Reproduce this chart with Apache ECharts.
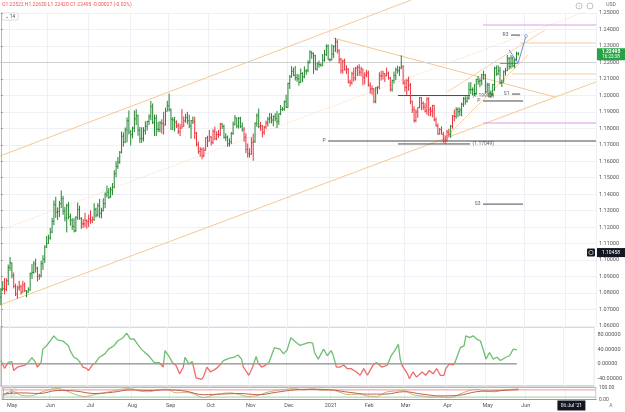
<!DOCTYPE html>
<html><head><meta charset="utf-8">
<script src="https://cdn.jsdelivr.net/npm/echarts@6/dist/echarts.min.js"></script>
<style>html,body{margin:0;padding:0;background:#fff}#c{width:625px;height:412px}</style>
</head><body><div id="c"></div>
<script>
// ---------- data ----------
const startDate = [2020, 3, 24];      // first bar: 24 Apr 2020 (weekday calendar)
const slotCount = 326;                 // bars + empty future space
const lastPrice = 1.22495;
const crossPrice = 1.10458;
const crossDate = '2021-07-06';
const titleText = 'O1.22522 H1.22630 L1.22420 C1.22495 -0.00027 (-0.02%)';
const monthNames = ['Jan','Feb','Mar','Apr','May','Jun','Jul','Aug','Sep','Oct','Nov','Dec'];

// daily bars [open, close, low, high]
const ohlc = [
[1.0774,1.0822,1.0727,1.0830],[1.0822,1.0828,1.0812,1.0873],[1.0828,1.0823,1.0792,1.0892],[1.0823,1.0874,1.0811,1.0889],[1.0874,1.0955,1.0847,1.0973],
[1.0955,1.0983,1.0935,1.1019],
[1.0983,1.0907,1.0889,1.0986],[1.0907,1.0841,1.0828,1.0925],[1.0841,1.0794,1.0782,1.0857],[1.0794,1.0831,1.0766,1.0845],[1.0831,1.0838,1.0814,1.0875],
[1.0838,1.0806,1.0790,1.0851],[1.0806,1.0850,1.0803,1.0875],[1.0850,1.0815,1.0806,1.0865],[1.0815,1.0806,1.0775,1.0818],[1.0806,1.0820,1.0802,1.0835],
[1.0820,1.0917,1.0814,1.0925],[1.0917,1.0925,1.0885,1.0975],[1.0925,1.0977,1.0918,1.0994],[1.0977,1.0950,1.0924,1.1009],[1.0950,1.0903,1.0870,1.0960],
[1.0903,1.0904,1.0880,1.0917],[1.0904,1.0978,1.0895,1.0996],[1.0978,1.1007,1.0940,1.1030],[1.1007,1.1078,1.0982,1.1091],[1.1078,1.1101,1.1074,1.1146],
[1.1101,1.1134,1.1098,1.1154],[1.1134,1.1170,1.1124,1.1196],[1.1170,1.1235,1.1164,1.1257],[1.1235,1.1337,1.1212,1.1362],[1.1337,1.1290,1.1256,1.1384],
[1.1290,1.1295,1.1244,1.1320],[1.1295,1.1343,1.1261,1.1360],[1.1343,1.1373,1.1317,1.1422],[1.1373,1.1298,1.1275,1.1390],[1.1298,1.1256,1.1235,1.1322],
[1.1256,1.1330,1.1168,1.1342],[1.1330,1.1264,1.1248,1.1353],[1.1264,1.1243,1.1209,1.1283],[1.1243,1.1205,1.1184,1.1253],[1.1205,1.1178,1.1168,1.1256],
[1.1178,1.1259,1.1171,1.1267],[1.1259,1.1307,1.1244,1.1349],[1.1307,1.1252,1.1245,1.1330],[1.1252,1.1220,1.1190,1.1261],[1.1220,1.1220,1.1195,1.1250],
[1.1220,1.1242,1.1200,1.1287],[1.1242,1.1233,1.1191,1.1247],[1.1233,1.1250,1.1200,1.1276],[1.1250,1.1240,1.1221,1.1302],[1.1240,1.1247,1.1224,1.1265],
[1.1247,1.1309,1.1238,1.1345],[1.1309,1.1274,1.1258,1.1318],[1.1274,1.1329,1.1264,1.1346],[1.1329,1.1284,1.1256,1.1372],[1.1284,1.1300,1.1253,1.1318],
[1.1300,1.1343,1.1296,1.1375],[1.1343,1.1398,1.1315,1.1411],[1.1398,1.1412,1.1380,1.1452],[1.1412,1.1383,1.1371,1.1437],[1.1383,1.1427,1.1377,1.1444],
[1.1427,1.1443,1.1394,1.1468],[1.1443,1.1525,1.1436,1.1546],[1.1525,1.1569,1.1502,1.1601],[1.1569,1.1594,1.1554,1.1626],[1.1594,1.1655,1.1585,1.1662],
[1.1655,1.1752,1.1647,1.1781],[1.1752,1.1716,1.1689,1.1776],[1.1716,1.1790,1.1710,1.1805],[1.1790,1.1846,1.1715,1.1866],[1.1846,1.1778,1.1763,1.1908],
[1.1778,1.1762,1.1696,1.1790],[1.1762,1.1801,1.1739,1.1810],[1.1801,1.1858,1.1777,1.1908],[1.1858,1.1876,1.1820,1.1916],[1.1876,1.1788,1.1755,1.1883],
[1.1788,1.1737,1.1711,1.1809],[1.1737,1.1739,1.1711,1.1806],[1.1739,1.1786,1.1720,1.1807],[1.1786,1.1812,1.1762,1.1843],[1.1812,1.1842,1.1787,1.1846],
[1.1842,1.1870,1.1819,1.1885],[1.1870,1.1931,1.1849,1.1966],[1.1931,1.1837,1.1826,1.1951],[1.1837,1.1860,1.1753,1.1883],[1.1860,1.1796,1.1753,1.1883],
[1.1796,1.1793,1.1776,1.1839],[1.1793,1.1833,1.1776,1.1845],[1.1833,1.1830,1.1767,1.1855],[1.1830,1.1820,1.1762,1.1900],[1.1820,1.1903,1.1818,1.1925],
[1.1903,1.1937,1.1903,1.1967],[1.1937,1.1913,1.1902,1.2011],[1.1913,1.1854,1.1790,1.1921],[1.1854,1.1850,1.1789,1.1868],[1.1850,1.1838,1.1781,1.1869],
[1.1838,1.1816,1.1802,1.1848],[1.1816,1.1780,1.1765,1.1831],[1.1780,1.1801,1.1753,1.1827],[1.1801,1.1812,1.1800,1.1917],[1.1812,1.1845,1.1810,1.1872],
[1.1845,1.1865,1.1835,1.1888],[1.1865,1.1846,1.1824,1.1900],[1.1846,1.1815,1.1802,1.1882],[1.1815,1.1848,1.1737,1.1850],[1.1848,1.1840,1.1826,1.1872],
[1.1840,1.1770,1.1735,1.1870],[1.1770,1.1703,1.1690,1.1778],[1.1703,1.1660,1.1645,1.1720],[1.1660,1.1672,1.1627,1.1686],[1.1672,1.1632,1.1612,1.1683],
[1.1632,1.1667,1.1624,1.1684],[1.1667,1.1743,1.1664,1.1746],[1.1743,1.1722,1.1686,1.1755],[1.1722,1.1748,1.1721,1.1790],[1.1748,1.1715,1.1696,1.1752],
[1.1715,1.1781,1.1703,1.1795],[1.1781,1.1734,1.1730,1.1810],[1.1734,1.1762,1.1728,1.1782],[1.1762,1.1760,1.1742,1.1790],[1.1760,1.1825,1.1754,1.1833],
[1.1825,1.1812,1.1795,1.1832],[1.1812,1.1745,1.1737,1.1822],[1.1745,1.1746,1.1722,1.1770],[1.1746,1.1706,1.1688,1.1756],[1.1706,1.1718,1.1689,1.1739],
[1.1718,1.1769,1.1704,1.1778],[1.1769,1.1824,1.1760,1.1841],[1.1824,1.1863,1.1818,1.1881],[1.1863,1.1815,1.1800,1.1865],[1.1815,1.1860,1.1799,1.1869],
[1.1860,1.1812,1.1802,1.1870],[1.1812,1.1794,1.1780,1.1836],[1.1794,1.1746,1.1718,1.1807],[1.1746,1.1672,1.1650,1.1770],[1.1672,1.1646,1.1622,1.1708],
[1.1646,1.1642,1.1622,1.1679],[1.1642,1.1714,1.1640,1.1745],[1.1714,1.1722,1.1603,1.1769],[1.1722,1.1830,1.1711,1.1836],[1.1830,1.1876,1.1809,1.1891],
[1.1876,1.1812,1.1801,1.1920],[1.1812,1.1815,1.1785,1.1838],[1.1815,1.1776,1.1745,1.1820],[1.1776,1.1807,1.1760,1.1815],[1.1807,1.1833,1.1796,1.1847],
[1.1833,1.1855,1.1811,1.1870],[1.1855,1.1863,1.1831,1.1893],[1.1863,1.1850,1.1830,1.1891],[1.1850,1.1872,1.1812,1.1878],[1.1872,1.1859,1.1842,1.1892],
[1.1859,1.1842,1.1801,1.1905],[1.1842,1.1888,1.1821,1.1890],[1.1888,1.1914,1.1880,1.1941],[1.1914,1.1916,1.1906,1.1930],[1.1916,1.1962,1.1906,1.1969],
[1.1962,1.1927,1.1923,1.2004],[1.1927,1.2072,1.1925,1.2077],[1.2072,1.2113,1.2039,1.2123],[1.2113,1.2146,1.2107,1.2177],[1.2146,1.2122,1.2117,1.2169],
[1.2122,1.2109,1.2090,1.2178],[1.2109,1.2100,1.2083,1.2130],[1.2100,1.2079,1.2059,1.2128],[1.2079,1.2133,1.2074,1.2163],[1.2133,1.2112,1.2081,1.2140],
[1.2112,1.2148,1.2104,1.2176],[1.2148,1.2150,1.2125,1.2159],[1.2150,1.2199,1.2140,1.2213],[1.2199,1.2263,1.2193,1.2273],[1.2263,1.2255,1.2222,1.2268],
[1.2255,1.2241,1.2130,1.2260],[1.2241,1.2159,1.2153,1.2246],[1.2159,1.2191,1.2150,1.2201],[1.2191,1.2187,1.2168,1.2211],[1.2187,1.2180,1.2175,1.2195],
[1.2180,1.2214,1.2179,1.2251],[1.2214,1.2249,1.2205,1.2276],[1.2249,1.2298,1.2239,1.2310],[1.2298,1.2216,1.2215,1.2309],[1.2216,1.2216,1.2205,1.2225],
[1.2216,1.2251,1.2212,1.2310],[1.2251,1.2297,1.2227,1.2305],[1.2297,1.2325,1.2264,1.2349],[1.2325,1.2271,1.2254,1.2339],[1.2271,1.2219,1.2193,1.2280],
[1.2219,1.2150,1.2132,1.2227],[1.2150,1.2208,1.2132,1.2218],[1.2208,1.2156,1.2151,1.2223],[1.2156,1.2159,1.2130,1.2183],[1.2159,1.2080,1.2072,1.2166],
[1.2080,1.2076,1.2053,1.2094],[1.2076,1.2131,1.2066,1.2144],[1.2131,1.2105,1.2084,1.2168],[1.2105,1.2166,1.2090,1.2173],[1.2166,1.2170,1.2117,1.2183],
[1.2170,1.2141,1.2119,1.2189],[1.2141,1.2160,1.2116,1.2174],[1.2160,1.2110,1.2060,1.2162],[1.2110,1.2123,1.2067,1.2140],[1.2123,1.2136,1.2110,1.2155],
[1.2136,1.2062,1.2053,1.2150],[1.2062,1.2039,1.2010,1.2079],[1.2039,1.2040,1.2003,1.2060],[1.2040,1.1963,1.1952,1.2044],[1.1963,1.2046,1.1952,1.2050],
[1.2046,1.2050,1.2008,1.2055],[1.2050,1.2118,1.2037,1.2140],[1.2118,1.2119,1.2090,1.2149],[1.2119,1.2132,1.2096,1.2150],[1.2132,1.2119,1.2081,1.2135],
[1.2119,1.2133,1.2115,1.2169],[1.2133,1.2105,1.2096,1.2144],[1.2105,1.2037,1.2023,1.2112],[1.2037,1.2090,1.2022,1.2095],[1.2090,1.2120,1.2073,1.2145],
[1.2120,1.2155,1.2092,1.2169],[1.2155,1.2150,1.2133,1.2180],[1.2150,1.2166,1.2118,1.2175],[1.2166,1.2176,1.2159,1.2243],[1.2176,1.2075,1.2066,1.2183],
[1.2075,1.2048,1.2022,1.2095],[1.2048,1.2089,1.2000,1.2100],[1.2089,1.2061,1.2028,1.2114],[1.2061,1.1964,1.1946,1.2075],[1.1964,1.1914,1.1893,1.1968],
[1.1914,1.1847,1.1835,1.1934],[1.1847,1.1899,1.1836,1.1915],[1.1899,1.1926,1.1864,1.1929],[1.1926,1.1986,1.1922,1.1990],[1.1986,1.1951,1.1910,1.1990],
[1.1951,1.1929,1.1912,1.1964],[1.1929,1.1904,1.1896,1.1953],[1.1904,1.1978,1.1883,1.1988],[1.1978,1.1914,1.1874,1.1989],[1.1914,1.1904,1.1874,1.1930],
[1.1904,1.1938,1.1867,1.1943],[1.1938,1.1852,1.1842,1.1942],[1.1852,1.1815,1.1810,1.1866],[1.1815,1.1766,1.1760,1.1830],[1.1766,1.1793,1.1762,1.1802],
[1.1793,1.1764,1.1763,1.1812],[1.1764,1.1726,1.1712,1.1779],[1.1726,1.1730,1.1704,1.1758],[1.1730,1.1777,1.1717,1.1790],[1.1777,1.1762,1.1748,1.1797],
[1.1762,1.1813,1.1742,1.1820],[1.1813,1.1874,1.1798,1.1881],[1.1874,1.1872,1.1842,1.1914],[1.1872,1.1915,1.1858,1.1927],[1.1915,1.1901,1.1868,1.1928],
[1.1901,1.1911,1.1875,1.1926],[1.1911,1.1946,1.1873,1.1956],[1.1946,1.1980,1.1930,1.1990],[1.1980,1.1965,1.1943,1.1994],[1.1965,1.1983,1.1955,1.1994],
[1.1983,1.2035,1.1974,1.2079],[1.2035,1.2035,1.2009,1.2080],[1.2035,1.2033,1.2000,1.2048],[1.2033,1.2012,1.1995,1.2070],[1.2012,1.2097,1.2003,1.2101],
[1.2097,1.2085,1.2065,1.2117],[1.2085,1.2089,1.2050,1.2103],[1.2089,1.2125,1.2060,1.2131],[1.2125,1.2125,1.2095,1.2150],[1.2125,1.2020,1.2015,1.2129],
[1.2020,1.2062,1.2016,1.2077],[1.2062,1.2015,1.1986,1.2075],[1.2015,1.2004,1.1985,1.2030],[1.2004,1.2066,1.1994,1.2070],[1.2066,1.2165,1.2027,1.2173],
[1.2165,1.2131,1.2118,1.2181],[1.2131,1.2149,1.2122,1.2182],[1.2149,1.2075,1.2068,1.2173],[1.2075,1.2080,1.2051,1.2095],[1.2080,1.2143,1.2078,1.2152],
[1.2143,1.2150,1.2120,1.2167],[1.2150,1.2223,1.2147,1.2245],[1.2223,1.2176,1.2156,1.2233],[1.2176,1.2226,1.2162,1.2244],[1.2226,1.2180,1.2170,1.2236],
[1.2180,1.2213,1.2164,1.2224],[1.2213,1.2252,1.2211,1.2266],[1.22522,1.22495,1.22420,1.22630]
];

// oscillator pane: [bar index, value]
const oscPoints = [[0,9],[1,6],[2,-12],[4,4],[6,6],[7,-18],[9,-9],[11,-6],[13,-4],[15,4],[17,17],[18,18],[19,4],[20,-9],[22,3],[23,40],[25,49],[27,62],[29,76],[31,65],[34,62],[37,49],[38,36],[40,18],[42,13],[44,0],[45,-9],[47,-12],[48,-18],[50,-4],[52,4],[54,18],[57,27],[59,40],[62,49],[64,62],[67,71],[69,83],[71,67],[73,68],[75,53],[77,40],[79,31],[81,22],[84,4],[87,3],[89,-9],[90,36],[92,22],[94,4],[96,-4],[98,-27],[100,-9],[101,18],[103,0],[105,6],[107,-38],[110,-42],[111,-36],[113,-9],[115,-22],[118,-13],[120,-4],[122,9],[125,15],[128,18],[130,24],[132,13],[133,-9],[136,-31],[138,-9],[140,20],[141,3],[143,-9],[145,-4],[147,4],[150,44],[153,40],[155,27],[157,38],[159,71],[162,58],[164,50],[167,55],[169,58],[171,56],[172,31],[174,13],[177,40],[179,22],[181,36],[182,27],[184,-9],[186,-9],[188,-3],[190,-13],[192,-13],[195,-22],[197,-31],[199,-13],[201,-31],[202,-36],[204,-4],[206,4],[209,-9],[212,-3],[213,-4],[214,22],[216,36],[218,53],[219,13],[220,-4],[223,-27],[224,-40],[226,-22],[228,-36],[231,-22],[233,-31],[235,-18],[237,-27],[239,-13],[241,-31],[243,-31],[244,-13],[246,0],[248,-3],[249,4],[252,44],[254,49],[255,76],[257,71],[259,76],[261,67],[263,62],[265,31],[266,13],[268,31],[270,13],[272,18],[274,9],[275,13],[277,18],[279,22],[281,40],[283,38]];

// bottom pane: two stochastic-like lines [bar index, value]
const stochFast = [[0,25],[5,70],[10,35],[15,30],[20,55],[25,80],[30,92],[35,70],[40,40],[45,25],[50,40],[55,55],[60,70],[65,85],[70,90],[75,70],[80,65],[85,80],[90,85],[95,55],[100,60],[105,45],[110,15],[115,35],[120,50],[125,55],[130,40],[135,25],[140,35],[145,60],[150,75],[155,85],[160,90],[165,80],[170,88],[175,75],[180,80],[185,60],[190,40],[195,45],[200,30],[205,25],[210,60],[215,70],[220,75],[225,40],[230,30],[235,20],[240,20],[245,15],[250,40],[255,70],[260,85],[265,70],[270,65],[275,80],[280,85],[283,88]];
const stochSlow = [[0,45],[10,55],[20,50],[30,75],[40,70],[50,50],[60,60],[70,80],[80,75],[90,80],[100,70],[110,40],[120,45],[130,50],[140,40],[150,60],[160,80],[170,85],[180,80],[190,60],[200,45],[210,45],[220,65],[230,45],[240,30],[250,35],[260,65],[270,72],[283,82]];
const stochLevels = [80, 20];

// drawn lines in the price pane: [[x1, p1], [x2, p2]] (x = bar index)
const channelUpper = [[-0.5, 1.1632], [224.5, 1.2579]];
const channelLower = [[-0.5, 1.0727], [325.5, 1.2082]];
const channelMid   = [[-0.5, 1.1180], [325.5, 1.2531]];
const peakTangent  = [[181.8, 1.2348], [303.1, 1.1990]];
const trendUpper   = [[244.0, 1.2020], [297.6, 1.2397]];
const trendLower   = [[240.2, 1.1711], [288.3, 1.2245]];
const forecastPath = [[278.0, 1.2275], [282.9, 1.2196], [287.2, 1.2360]];
// horizontal levels: [x1, x2, price, kind]
const levels = [
  [263.7, 325.5, 1.2427, 'magenta'], [263.7, 325.5, 1.1832, 'magenta'],
  [284.0, 325.5, 1.2318, 'orange'],  [279.6, 325.5, 1.2130, 'orange'],
  [179.0, 325.5, 1.1723, 'dark'],    [217.2, 256.6, 1.1705, 'dark'],
  [217.2, 256.6, 1.1999, 'dark'],    [263.7, 285.6, 1.1966, 'dark'],
  [263.7, 285.6, 1.1340, 'dark'],    [279.0, 284.0, 1.2366, 'dark'],
  [279.6, 284.0, 1.2008, 'dark'],    [273.0, 282.9, 1.2196, 'dark']
];
// level labels: [x, price, text, side]
const levelLabels = [
  [279.0, 1.2366, 'R3', 'left'], [279.6, 1.2008, 'S1', 'left'],
  [263.7, 1.1966, 'P', 'left'],  [263.7, 1.1340, 'S3', 'left'],
  [179.0, 1.1723, 'P', 'left'],  [256.6, 1.1705, '(1.17049)', 'right'],
  [256.6, 1.1999, '(1.19993)', 'right']
];

// ---------- calendar (category axis) ----------
const cats = [], monthLabel = [];
{
  const d = new Date(Date.UTC(startDate[0], startDate[1], startDate[2]));
  let prevM = -1;
  while (cats.length < slotCount) {
    const wd = d.getUTCDay();
    if (wd !== 0 && wd !== 6) {
      const y = d.getUTCFullYear(), m = d.getUTCMonth(), dd = d.getUTCDate();
      cats.push(y + '-' + String(m + 1).padStart(2, '0') + '-' + String(dd).padStart(2, '0'));
      monthLabel.push(prevM !== -1 && m !== prevM ? (m === 0 ? String(y) : monthNames[m]) : '');
      prevM = m;
    }
    d.setUTCDate(d.getUTCDate() + 1);
  }
}

// ---------- styling helpers ----------
const GREEN = '#23862f', RED = '#e8323a';
const OSC_GREEN = '#6fbd73', OSC_RED = '#ef6b68';
function oscAt(i) {
  for (let k = 0; k < oscPoints.length - 1; k++) {
    const a = oscPoints[k], b = oscPoints[k + 1];
    if (i >= a[0] && i <= b[0]) return a[1] + (b[1] - a[1]) * ((i - a[0]) / ((b[0] - a[0]) || 1));
  }
  return oscPoints[oscPoints.length - 1][1];
}
const barData = ohlc.map((r, i) => [i, r[0], r[1], r[2], r[3]]);
const barColor = ohlc.map((r, i) => oscAt(i) >= 0 ? GREEN : RED);
const levelColor = { magenta: '#dc9be8', orange: '#f7cb9c', dark: '#4a4a4a' };

const gridLine = '#eef0f5';
const txt = '#555';
const FS = 5.5;
const monthSplit = (i) => monthLabel[i] !== '';

function catAxis(g, showLabel) {
  return {
    type: 'category', gridIndex: g, data: cats, boundaryGap: true,
    axisLine: { show: showLabel, lineStyle: { color: '#9a9a9a' } }, axisTick: { show: false },
    axisLabel: showLabel ? { interval: 0, fontSize: FS, color: txt, margin: 3, fontFamily: 'Roboto',
      formatter: (v, i) => monthLabel[i] } : { show: false },
    splitLine: { show: true, interval: monthSplit, lineStyle: { color: gridLine, width: 1 } }
  };
}
function valAxis(g) {
  return { type: 'value', gridIndex: g, min: -0.5, max: slotCount - 0.5, show: false };
}
function seg(pts, color, extra) {
  return Object.assign({ type: 'line', xAxisIndex: 1, yAxisIndex: 0, data: pts, showSymbol: false, symbol: 'none',
    silent: true, lineStyle: { color: color, width: 1 }, z: 3, animation: false }, extra || {});
}

const series = [];
series.push({
  type: 'custom', xAxisIndex: 1, yAxisIndex: 0, data: barData, z: 5, animation: false,
  encode: { x: 0, y: [1, 2, 3, 4] },
  renderItem: function (params, api) {
    const i = api.value(0);
    const pO = api.coord([i, api.value(1)]), pC = api.coord([i, api.value(2)]);
    const pL = api.coord([i, api.value(3)]), pH = api.coord([i, api.value(4)]);
    const w = api.size([1, 0])[0] * 0.45;
    const c = barColor[params.dataIndex];
    const st = { stroke: c, lineWidth: 1 };
    return { type: 'group', children: [
      { type: 'line', shape: { x1: pL[0], y1: pL[1], x2: pH[0], y2: pH[1] }, style: st },
      { type: 'line', shape: { x1: pO[0] - w, y1: pO[1], x2: pO[0], y2: pO[1] }, style: st },
      { type: 'line', shape: { x1: pC[0], y1: pC[1], x2: pC[0] + w, y2: pC[1] }, style: st }
    ]};
  },
  markLine: { silent: true, symbol: 'none', label: { show: false }, animation: false,
    lineStyle: { color: '#cfcfcf', type: 'solid', width: 1 }, data: [{ yAxis: lastPrice }] }
});
series.push(seg(channelUpper, '#f6c795', { clip: false }));
series.push(seg(channelLower, '#f6c795'));
series.push(seg(channelMid, '#f8dcc0', { lineStyle: { color: '#f8dcc0', width: 1, type: 'dotted' } }));
series.push(seg(peakTangent, '#f6c795'));
series.push(seg(trendUpper, '#f8d3ab'));
series.push(seg(trendLower, '#f8d3ab'));
levels.forEach(l => series.push(seg([[l[0], l[2]], [l[1], l[2]]], levelColor[l[3]])));
series.push(seg(forecastPath, '#6d8fd6', { z: 6 }));
series.push({ type: 'scatter', xAxisIndex: 1, yAxisIndex: 0, silent: true, z: 6, animation: false,
  data: [forecastPath[forecastPath.length - 1]], symbol: 'circle', symbolSize: 3,
  itemStyle: { color: '#fff', borderColor: '#6d8fd6', borderWidth: 0.8 } });
series.push({ type: 'scatter', xAxisIndex: 1, yAxisIndex: 0, silent: true, z: 7, animation: false,
  symbolSize: 1, itemStyle: { color: 'rgba(0,0,0,0)' },
  data: levelLabels.map(l => ({ value: [l[0], l[1]],
    label: { show: true, formatter: l[2], position: l[3], distance: 2, fontSize: 5, color: '#333', fontFamily: 'Roboto' } })) });

// oscillator pane
series.push({ type: 'line', xAxisIndex: 3, yAxisIndex: 1, data: [[0, 0], [ohlc.length - 1, 0]], symbol: 'none', silent: true,
  lineStyle: { color: '#6f6f6f', width: 1 }, z: 2, animation: false });
series.push({ id: 'osc', type: 'line', xAxisIndex: 3, yAxisIndex: 1, data: oscPoints, symbol: 'none', silent: true,
  lineStyle: { width: 1.3, color: OSC_GREEN }, z: 3, animation: false });

// bottom pane
stochLevels.forEach((v, k) => series.push({ type: 'line', xAxisIndex: 5, yAxisIndex: 2,
  data: [[-0.5, v], [slotCount - 0.5, v]], symbol: 'none', silent: true, animation: false,
  lineStyle: { color: k === 0 ? '#ee9a9a' : '#9fd0a2', width: 1 } }));
series.push({ type: 'line', xAxisIndex: 5, yAxisIndex: 2, data: stochFast, symbol: 'none', smooth: 0.4, silent: true,
  animation: false, lineStyle: { color: '#c9b27a', width: 1 } });
series.push({ type: 'line', xAxisIndex: 5, yAxisIndex: 2, data: stochSlow, symbol: 'none', smooth: 0.4, silent: true,
  animation: false, lineStyle: { color: '#c0604a', width: 1 } });

const option = {
  backgroundColor: '#ffffff',
  animation: false,
  grid: [
    { left: 0, right: 29, top: 13, height: 313 },
    { left: 0, right: 29, top: 327, height: 59, show: true, borderColor: '#b5b5b5', borderWidth: 1, backgroundColor: 'transparent' },
    { left: 0, right: 29, top: 387.5, height: 12, show: true, borderColor: '#b5b5b5', borderWidth: 1, backgroundColor: 'transparent' }
  ],
  xAxis: [catAxis(0, false), valAxis(0), catAxis(1, false), valAxis(1), catAxis(2, true), valAxis(2)],
  yAxis: [
    { type: 'value', gridIndex: 0, position: 'right', min: 1.06, max: 1.25, interval: 0.01,
      axisLine: { show: true, lineStyle: { color: '#b5b5b5' } }, axisTick: { show: true, length: 2, lineStyle: { color: '#999' } },
      axisLabel: { fontSize: FS, color: txt, margin: 3, fontFamily: 'Roboto', formatter: v => v.toFixed(5) },
      splitLine: { show: true, lineStyle: { color: gridLine } } },
    { type: 'value', gridIndex: 1, position: 'right', min: -60, max: 100, interval: 20,
      axisLine: { show: true, lineStyle: { color: '#b5b5b5' } }, axisTick: { show: false },
      axisLabel: { fontSize: FS, color: txt, margin: 3, fontFamily: 'Roboto',
        formatter: v => (Math.round(v) % 40 === 0 ? v.toFixed(5) : '') },
      splitLine: { show: false } },
    { type: 'value', gridIndex: 2, position: 'right', min: 0, max: 100, interval: 100,
      axisLine: { show: true, lineStyle: { color: '#b5b5b5' } }, axisTick: { show: false },
      axisLabel: { fontSize: 5, color: txt, margin: 3, fontFamily: 'Roboto', formatter: v => v.toFixed(2) },
      splitLine: { show: false } }
  ],
  series: series
};

const chart = echarts.init(document.getElementById('c'), null, { renderer: 'canvas' });
chart.setOption(option);

// oscillator colour split at the zero line (positions through the chart's own scale)
const yZero = chart.convertToPixel({ yAxisIndex: 1 }, 0);
chart.setOption({ series: [{ id: 'osc', lineStyle: { color: {
  type: 'linear', x: 0, y: yZero - 0.01, x2: 0, y2: yZero + 0.01, global: true,
  colorStops: [{ offset: 0, color: OSC_GREEN }, { offset: 0.5, color: OSC_GREEN }, { offset: 0.5, color: OSC_RED }, { offset: 1, color: OSC_RED }]
} } }] });

// badges positioned through the chart's own scales
const yLast = chart.convertToPixel({ yAxisIndex: 0 }, lastPrice);
const yCross = chart.convertToPixel({ yAxisIndex: 0 }, crossPrice);
const xCross = chart.convertToPixel({ xAxisIndex: 4 }, crossDate);
const F = 'Roboto';
chart.setOption({ graphic: [
  { type: 'text', left: 2, top: 2, style: { text: titleText, fill: '#ef5350', font: '5px ' + F } },
  { type: 'rect', shape: { x: 2, y: 13, width: 16, height: 7, r: 1 }, style: { fill: '#fff', stroke: '#c8c8c8', lineWidth: 0.6 } },
  { type: 'text', x: 10, y: 16.5, style: { text: '⌄ 14', fill: '#444', font: '4.5px ' + F, align: 'center', verticalAlign: 'middle' } },
  { type: 'rect', shape: { x: 2, y: 388, width: 14, height: 7, r: 1 }, style: { fill: '#fff', stroke: '#c8c8c8', lineWidth: 0.6 } },
  { type: 'text', x: 9, y: 391.5, style: { text: '⌄ 2', fill: '#444', font: '4.5px ' + F, align: 'center', verticalAlign: 'middle' } },
  { type: 'text', x: 611, y: 5, style: { text: 'USD', fill: '#666', font: '5px ' + F, align: 'center', verticalAlign: 'middle' } },
  { type: 'circle', shape: { cx: 579, cy: 6, r: 3 }, style: { fill: '#fff', stroke: '#999', lineWidth: 0.6 } },
  { type: 'text', x: 579, y: 6, style: { text: '↓', fill: '#666', font: '4px ' + F, align: 'center', verticalAlign: 'middle' } },
  { type: 'circle', shape: { cx: 590, cy: 6, r: 3 }, style: { fill: '#fff', stroke: '#999', lineWidth: 0.6 } },
  { type: 'rect', shape: { x: 597, y: yLast - 6, width: 28, height: 12 }, style: { fill: '#27a345' } },
  { type: 'text', x: 611, y: yLast - 2.6, style: { text: lastPrice.toFixed(5), fill: '#fff', font: 'bold 5px ' + F, align: 'center', verticalAlign: 'middle' } },
  { type: 'text', x: 611, y: yLast + 2.8, style: { text: '16:23:38', fill: '#fff', font: '4.5px ' + F, align: 'center', verticalAlign: 'middle' } },
  { type: 'rect', shape: { x: 597, y: yCross - 4.5, width: 28, height: 9 }, style: { fill: '#131722' } },
  { type: 'text', x: 611, y: yCross, style: { text: crossPrice.toFixed(5), fill: '#fff', font: '5px ' + F, align: 'center', verticalAlign: 'middle' } },
  { type: 'rect', shape: { x: 587, y: yCross - 4, width: 8, height: 8, r: 1 }, style: { fill: '#131722' } },
  { type: 'circle', shape: { cx: 591, cy: yCross, r: 2.2 }, style: { fill: 'none', stroke: '#fff', lineWidth: 0.6 } },
  { type: 'rect', shape: { x: xCross - 14, y: 400.5, width: 28, height: 10 }, style: { fill: '#131722' } },
  { type: 'text', x: xCross, y: 405.5, style: { text: "06 Jul '21", fill: '#fff', font: '5px ' + F, align: 'center', verticalAlign: 'middle' } },
  { type: 'text', x: 611, y: 405.5, style: { text: 'A', fill: '#777', font: '5px ' + F, align: 'center', verticalAlign: 'middle' } }
]});
</script></body></html>
